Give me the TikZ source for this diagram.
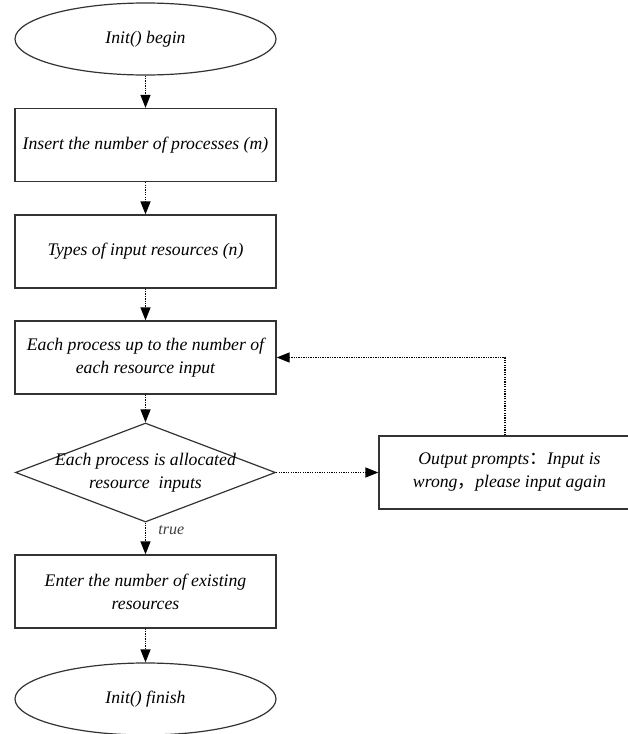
\documentclass[tikz,border=0pt]{standalone}
\usepackage{fontspec}
\setmainfont{Liberation Serif}
\newfontfamily\cjk{Noto Sans CJK SC}
\usetikzlibrary{shapes.geometric,arrows.meta}

\tikzset{
  txt/.style={font=\fontsize{17.7}{23}\selectfont\itshape, align=center, text=black},
  stepbox/.style={txt, draw=black!80, line width=1.2pt, rectangle,
    minimum width=261pt, minimum height=73pt, inner sep=0pt},
  terminal/.style={txt, draw=black!80, line width=1.2pt, ellipse,
    minimum width=261pt, minimum height=72pt, inner sep=0pt},
  decision/.style={draw=black!80, line width=1.2pt, diamond,
    minimum width=260pt, minimum height=99pt, inner sep=0pt},
  flow/.style={line width=1.3pt, dash pattern=on 1.3pt off 1.1pt,
    -{Triangle[length=13pt,width=10pt]}},
}

\begin{document}
\begin{tikzpicture}[x=1pt,y=-1pt]
\useasboundingbox (0,0) rectangle (628,734);
\clip (0,0) rectangle (628,734);

% main column
\node[terminal] (begin) at (145.5,39) {Init() begin};
\node[stepbox] (procs) at (145.5,145) {Insert the number of processes (m)};
\node[stepbox] (types) at (145.5,251.5) {Types of input resources (n)};
\node[stepbox] (each) at (145.5,357.5) {Each process up to the number of\\each resource input};
\node[decision] (check) at (145.5,472.5) {};
\node[txt] (checktxt) at (145.5,473) {Each process is allocated\\resource\ \ inputs};
\node[stepbox] (exist) at (145.5,591.5) {Enter the number of existing\\resources};
\node[terminal] (finish) at (145.5,699) {Init() finish};

% error branch
\node[stepbox] (wrong) at (509.5,472.5)
  {Output prompts{\cjk ：}Input is\\wrong{\cjk ，}please input again};

% connectors
\draw[flow] (begin) -- (procs);
\draw[flow] (procs) -- (types);
\draw[flow] (types) -- (each);
\draw[flow] (each) -- (check.north);
\draw[flow] (check.south) -- (exist)
  node[pos=0.25, right=9pt, font=\fontsize{16}{18}\selectfont\itshape, text=black!75] (truelbl) {true};
\draw[flow] (exist) -- (finish);
\draw[flow] (check.east) -- (wrong.west);
\draw[flow] ([xshift=-4.5pt]wrong.north) |- (each.east);
\end{tikzpicture}
\end{document}
